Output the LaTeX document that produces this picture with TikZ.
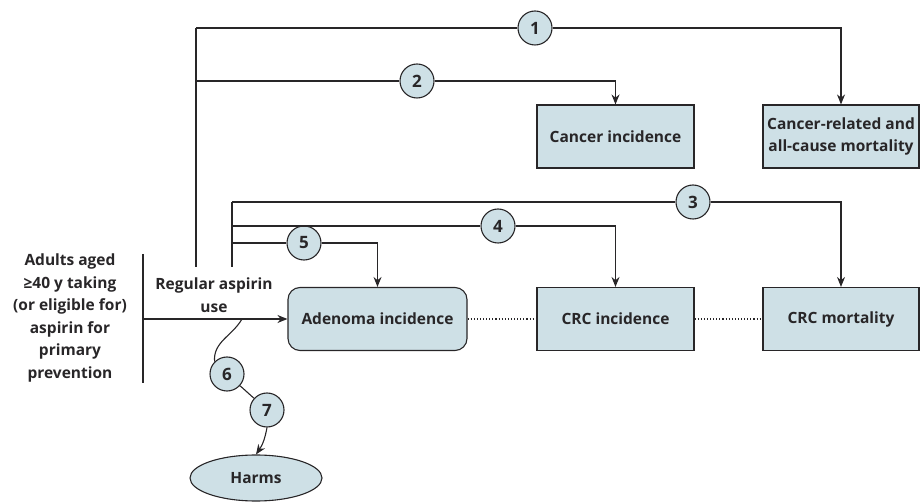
\documentclass[tikz,border=0pt]{standalone}
\usepackage{fontspec}
\setmainfont{Open Sans}
\usetikzlibrary{shapes.geometric, arrows.meta, positioning, calc}
\definecolor{boxfill}{RGB}{206,224,230}
\definecolor{ink}{RGB}{40,38,40}

\begin{document}
\begin{tikzpicture}[x=1pt,y=-1pt,>={Stealth[length=10pt,width=8pt]},line width=1.1pt,draw=ink,
  every node/.style={font=\fontsize{15.5}{22.5}\selectfont\bfseries,text=ink},
  box/.style={draw=ink,fill=boxfill,rectangle,minimum height=63pt,minimum width=157pt,inner sep=1pt,align=center},
  rbox/.style={box,rounded corners=12pt,minimum width=179pt},
  num/.style={draw=ink,fill=boxfill,circle,minimum size=34pt,inner sep=0pt,font=\fontsize{17}{20}\selectfont\bfseries}]
  \useasboundingbox (0,0) rectangle (921,502);
  % outcome boxes
  \node[box] (ci) at (615.5,136.5) {Cancer incidence};
  \node[box,minimum width=156pt] (mort) at (841,136.5) {Cancer-related and\\all-cause mortality};
  \node[rbox] (aden) at (377.5,319) {Adenoma incidence};
  \node[box] (crci) at (615.5,319) {CRC incidence};
  \node[box,minimum width=156pt] (crcm) at (841,319) {CRC mortality};
  \node[ellipse,draw=ink,fill=boxfill,minimum width=132pt,minimum height=46pt] (harms) at (256,478) {Harms};
  % population and intervention
  \node[align=center,inner sep=0pt] (pop) at (70,318) {Adults aged\\≥40 y taking\\(or eligible for)\\aspirin for\\primary\\prevention};
  \node[align=center,inner sep=0pt] (asp) at (214,295) {Regular aspirin\\use};
  % key questions
  \node[num] (n1) at (535,28) {1};
  \node[num] (n2) at (417,81) {2};
  \node[num] (n3) at (693,202) {3};
  \node[num] (n4) at (498,226) {4};
  \node[num] (n5) at (304,243) {5};
  \node[num] (n6) at (227,374) {6};
  \node[num] (n7) at (267,410) {7};
  \coordinate (t1) at (196,28);
  \coordinate (t2) at (196,81);
  \coordinate (tb) at (196,267);
  \coordinate (s3) at (232,202);
  \coordinate (s4) at (232,226);
  \coordinate (s5) at (232,243);
  \coordinate (sb) at (232,267);
  \coordinate (pt) at (143,254);
  \coordinate (pb) at (143,383);
  \coordinate (in) at (143,319);
  \coordinate (br) at (242,319);
  % connectors
  \draw (t1) -- (tb);
  \draw (t1) -- (n1.west);
  \draw[->] (n1.east) -| (mort.north);
  \draw (t2) -- (n2.west);
  \draw[->] (n2.east) -| (ci.north);
  \draw (s3) -- (sb);
  \draw (s3) -- (n3.west);
  \draw[->] (n3.east) -| (crcm.north);
  \draw (s4) -- (n4.west);
  \draw[->] (n4.east) -| (crci.north);
  \draw (s5) -- (n5.west);
  \draw[->] (n5.east) -| (aden.north);
  \draw (pt) -- (pb);
  \draw[->] (in) -- (aden.west);
  \draw[dotted] (aden.east) -- (crci.west);
  \draw[dotted] (crci.east) -- (crcm.west);
  \draw (br) to[out=240,in=95] (n6.north west);
  \draw (n6) -- (n7);
  \draw[->] (n7.south) to[bend left=12] (harms.north);
\end{tikzpicture}
\end{document}
